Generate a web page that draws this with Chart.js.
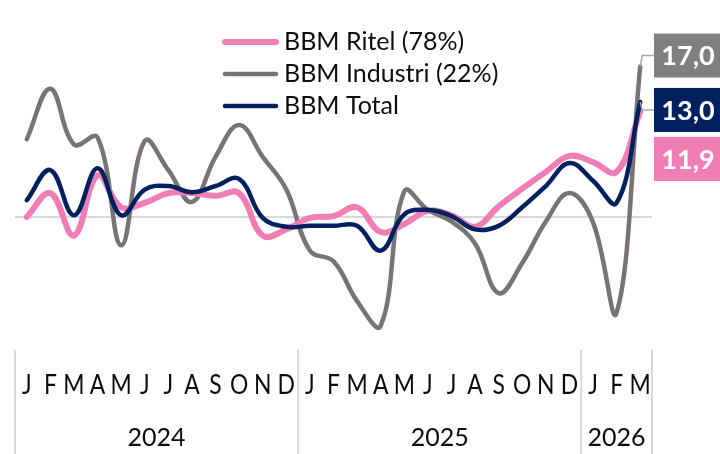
<!DOCTYPE html>
<html>
<head>
<meta charset="utf-8">
<script src="https://cdn.jsdelivr.net/npm/chart.js@4.4.1/dist/chart.umd.min.js"></script>
<style>
  html, body { margin: 0; padding: 0; background: #ffffff; }
  #bbmChart { display: block; }
</style>
</head>
<body>
<canvas id="bbmChart" width="720" height="454"></canvas>
<script>
// month letters along the axis, Jan 2024 .. Mar 2026
const monthLabels = ['J','F','M','A','M','J','J','A','S','O','N','D',
                     'J','F','M','A','M','J','J','A','S','O','N','D',
                     'J','F','M'];
const yearLabels = ['2024', '2025', '2026'];
const monthsPerYear = [12, 12, 3];

// values (% yoy)
const ritel = [0.0, 2.7, -2.1, 4.7, 1.1, 1.6, 2.7, 2.7, 2.4, 2.7, -2.1, -1.4,
               -0.1, 0.1, 1.1, -1.7, -0.8, 0.7, 0.2, -1.1, 1.2, 3.2, 5.1, 6.9,
               6.2, 5.1, 11.9];
const industri = [8.8, 14.5, 8.2, 9.0, -3.2, 8.6, 5.3, 1.7, 6.8, 10.4, 6.8, 3.1,
                  -3.8, -5.0, -9.5, -12.3, 2.9, 0.8, -0.5, -3.0, -8.6, -5.2, -0.5, 2.7,
                  -0.6, -10.8, 17.0];
const total = [1.9, 5.3, 0.2, 5.5, 0.2, 3.1, 3.5, 2.8, 3.5, 4.3, -0.1, -1.1,
               -1.0, -1.0, -1.0, -3.8, 0.3, 0.8, 0.1, -1.4, -1.0, 1.1, 3.5, 6.1,
               4.1, 1.6, 13.0];

const seriesNames = ['BBM Ritel (78%)', 'BBM Industri (22%)', 'BBM Total'];
const seriesColors = ['#F07EB5', '#787473', '#002060'];
const seriesWidths = [6, 4.5, 4.5];
const labelBoxColors = ['#F07EB5', '#808080', '#002060'];

const FONT = 'Lato, "Open Sans", "Noto Sans", sans-serif';

// zero line, month/year axis, separators
const axisPlugin = {
  id: 'axisPlugin',
  beforeDatasetsDraw(chart) {
    const ctx = chart.ctx;
    const x = chart.scales.x;
    const y = chart.scales.y;
    const area = chart.chartArea;
    const y0 = y.getPixelForValue(0);

    ctx.save();
    ctx.strokeStyle = '#D9D9D9';
    ctx.lineWidth = 2;
    ctx.beginPath();
    ctx.moveTo(area.left, y0);
    ctx.lineTo(area.right, y0);
    ctx.stroke();

    const half = (x.getPixelForValue(1) - x.getPixelForValue(0)) / 2;

    // month letters, a bit condensed like the original
    ctx.fillStyle = '#0d0d0d';
    ctx.font = '26px ' + FONT;
    ctx.textAlign = 'center';
    ctx.textBaseline = 'middle';
    monthLabels.forEach((m, i) => {
      ctx.save();
      ctx.translate(x.getPixelForValue(i), 386);
      ctx.scale(0.88, 1);
      ctx.fillText(m, 0, 0);
      ctx.restore();
    });

    // year groups and separators
    ctx.strokeStyle = '#D9D9D9';
    ctx.lineWidth = 2;
    ctx.font = '25px ' + FONT;
    let start = 0;
    yearLabels.forEach((yr, k) => {
      const left = x.getPixelForValue(start) - half;
      const right = x.getPixelForValue(start + monthsPerYear[k] - 1) + half;
      ctx.beginPath();
      ctx.moveTo(left, 350);
      ctx.lineTo(left, 454);
      ctx.stroke();
      if (k === yearLabels.length - 1) {
        ctx.beginPath();
        ctx.moveTo(right, 350);
        ctx.lineTo(right, 454);
        ctx.stroke();
      }
      ctx.fillText(yr, (left + right) / 2, 438);
      start += monthsPerYear[k];
    });
    ctx.restore();
  },
  afterDatasetsDraw(chart) {
    const ctx = chart.ctx;
    ctx.save();

    // legend
    ctx.font = '25px ' + FONT;
    ctx.textAlign = 'left';
    ctx.textBaseline = 'middle';
    ctx.lineCap = 'round';
    seriesNames.forEach((name, i) => {
      const ly = 42 + i * 32;
      ctx.strokeStyle = seriesColors[i];
      ctx.lineWidth = seriesWidths[i];
      ctx.beginPath();
      ctx.moveTo(225, ly);
      ctx.lineTo(276, ly);
      ctx.stroke();
      ctx.fillStyle = '#0d0d0d';
      ctx.fillText(name, 284, ly);
    });

    // end value labels (boxes pushed apart like the original)
    const boxLeft = 654;
    const boxW = 66;
    const boxH = 44;
    const order = [1, 2, 0]; // industri, total, ritel from top
    const centers = [];
    let prevBottom = -Infinity;
    order.forEach((ds) => {
      const meta = chart.getDatasetMeta(ds);
      const pt = meta.data[meta.data.length - 1];
      let cy = pt.y - (ds === 1 ? 11 : (ds === 2 ? -8 : 0));
      if (cy - boxH / 2 < prevBottom + 5) cy = prevBottom + 5 + boxH / 2;
      prevBottom = cy + boxH / 2;
      centers[ds] = cy;
    });

    ctx.lineCap = 'butt';
    ctx.font = 'bold 27px ' + FONT;
    ctx.textAlign = 'center';
    order.forEach((ds) => {
      const meta = chart.getDatasetMeta(ds);
      const pt = meta.data[meta.data.length - 1];
      const cy = centers[ds];
      const values = chart.data.datasets[ds].data;
      if (ds !== 0) {
        ctx.strokeStyle = '#A6A6A6';
        ctx.lineWidth = 1.5;
        ctx.beginPath();
        ctx.moveTo(pt.x, pt.y);
        ctx.lineTo(pt.x + 2, cy);
        ctx.lineTo(boxLeft, cy);
        ctx.stroke();
      }
      ctx.fillStyle = labelBoxColors[ds];
      ctx.fillRect(boxLeft, cy - boxH / 2, boxW, boxH);
      ctx.fillStyle = '#ffffff';
      ctx.fillText(values[values.length - 1].toFixed(1).replace('.', ','), boxLeft + boxW / 2 + 1, cy + 1);
    });
    ctx.restore();
  }
};

const ctx = document.getElementById('bbmChart');

new Chart(ctx, {
  type: 'line',
  data: {
    labels: monthLabels,
    datasets: [
      { label: seriesNames[0], data: ritel, borderColor: seriesColors[0], borderWidth: seriesWidths[0], order: 1 },
      { label: seriesNames[1], data: industri, borderColor: seriesColors[1], borderWidth: seriesWidths[1], order: 2 },
      { label: seriesNames[2], data: total, borderColor: seriesColors[2], borderWidth: seriesWidths[2], order: 0 }
    ]
  },
  options: {
    responsive: false,
    animation: false,
    devicePixelRatio: 1,
    layout: { padding: { left: 15, right: 68, top: 0, bottom: 104 } },
    elements: {
      line: { tension: 0.4, fill: false, borderCapStyle: 'round', borderJoinStyle: 'round' },
      point: { radius: 0, hoverRadius: 0 }
    },
    scales: {
      x: { type: 'category', offset: true, display: false },
      y: { min: -15.03, max: 24.52, display: false }
    },
    plugins: {
      legend: { display: false },
      tooltip: { enabled: false }
    }
  },
  plugins: [axisPlugin]
});
</script>
</body>
</html>
